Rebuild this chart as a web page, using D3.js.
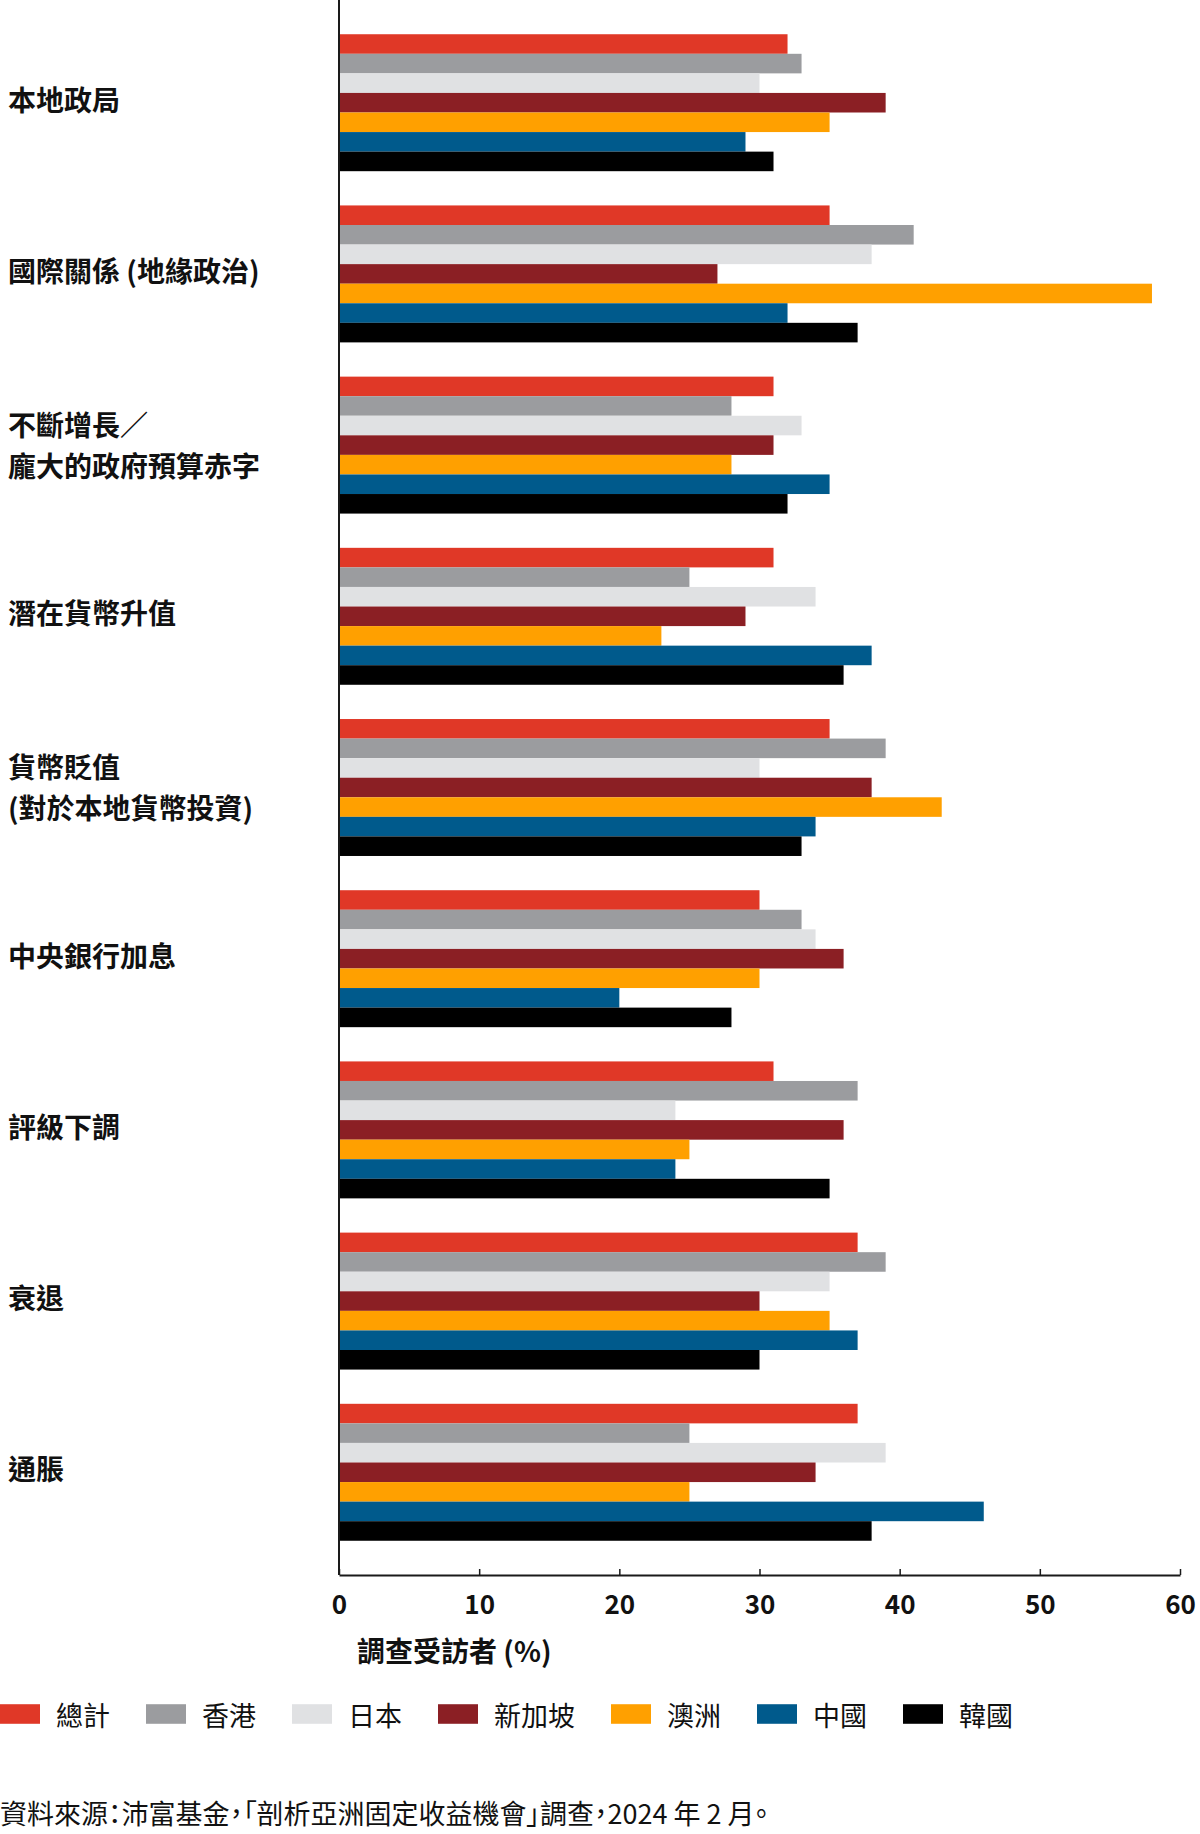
<!DOCTYPE html>
<html><head><meta charset="utf-8">
<script src="https://cdn.jsdelivr.net/npm/d3@7"></script>
<style>
html,body{margin:0;padding:0;background:#fff;}
svg{display:block;font-family:"Noto Sans CJK TC","Noto Sans",sans-serif;}
</style></head><body>
<svg id="chart" width="1200" height="1834"></svg>
<script>
// ---- data ----
const categories = ["本地政局","國際關係 (地緣政治)","不斷增長／龐大的政府預算赤字","潛在貨幣升值","貨幣貶值 (對於本地貨幣投資)","中央銀行加息","評級下調","衰退","通脹"];
const categoryLines = [["本地政局"],["國際關係 (地緣政治)"],["不斷增長／","龐大的政府預算赤字"],["潛在貨幣升值"],["貨幣貶值","(對於本地貨幣投資)"],["中央銀行加息"],["評級下調"],["衰退"],["通脹"]];
const seriesNames = ["總計","香港","日本","新加坡","澳洲","中國","韓國"];
const seriesColors = ["#E03827","#9B9C9F","#E0E1E3","#8B1F24","#FFA000","#005A8C","#000000"];
const totalValues     = [32,35,31,31,35,30,31,37,37];
const hongKongValues  = [33,41,28,25,39,33,37,39,25];
const japanValues     = [30,38,33,34,30,34,24,35,39];
const singaporeValues = [39,27,31,29,38,36,36,30,34];
const australiaValues = [35,58,28,23,43,30,25,35,25];
const chinaValues     = [29,32,35,38,34,20,24,37,46];
const koreaValues     = [31,37,32,36,33,28,35,30,38];
const seriesValues = [totalValues,hongKongValues,japanValues,singaporeValues,australiaValues,chinaValues,koreaValues];
const tickValues = [0,10,20,30,40,50,60];
const axisTitle = "調查受訪者 (%)";
const sourceText = "資料來源：沛富基金，「剖析亞洲固定收益機會」調查，2024 年 2 月。";

// ---- layout ----
const svg = d3.select("#chart");
const axisY = 1575;
const x = d3.scaleLinear().domain([0,60]).range([339,1180]);
const y = d3.scaleBand().domain(categories).range([0,axisY]).paddingInner(0.2).paddingOuter(0.2);
const yInner = d3.scaleBand().domain(seriesNames).range([0,y.bandwidth()]).padding(0);

const rows = [];
categories.forEach((c,ci)=>{
  seriesNames.forEach((s,si)=>{
    rows.push({cat:c, series:s, value:seriesValues[si][ci], color:seriesColors[si]});
  });
});

svg.append("g").selectAll("rect").data(rows).join("rect")
  .attr("x", x(0))
  .attr("y", d => y(d.cat) + yInner(d.series))
  .attr("width", d => x(d.value) - x(0))
  .attr("height", yInner.bandwidth())
  .attr("fill", d => d.color);

// vertical axis line
svg.append("line")
  .attr("x1", x(0)).attr("x2", x(0))
  .attr("y1", 0).attr("y2", axisY)
  .attr("stroke", "#1a1a1a").attr("stroke-width", 2);

// bottom axis
const xAxis = d3.axisBottom(x).tickValues(tickValues).tickFormat(d3.format("d"))
  .tickSizeInner(-6).tickSizeOuter(0).tickPadding(21);
const ax = svg.append("g").attr("transform", `translate(0,${axisY})`).call(xAxis);
ax.select(".domain").attr("stroke", "#1a1a1a").attr("stroke-width", 2);
ax.selectAll(".tick line").attr("stroke", "#1a1a1a").attr("stroke-width", 1.5);
ax.selectAll(".tick text").attr("fill", "#111").style("font-size", "26px").style("font-weight", "700")
  .style("font-family", "\"Noto Sans CJK TC\",sans-serif");

svg.append("text").attr("x", 357).attr("y", 1650)
  .attr("dominant-baseline", "central")
  .style("font-size", "28px").style("font-weight", "700").attr("fill", "#111")
  .text(axisTitle);

// category labels
const lab = svg.append("g");
categories.forEach((c,ci)=>{
  const lines = categoryLines[ci];
  const cy = y(c) + y.bandwidth()/2 + (lines.length > 1 ? -1 : -4);
  const lh = 41;
  lines.forEach((ln,li)=>{
    lab.append("text")
      .attr("x", 8)
      .attr("y", cy + (li - (lines.length-1)/2)*lh)
      .attr("dominant-baseline", "central")
      .style("font-size", "28px").style("font-weight", "700").attr("fill", "#111")
      .text(ln);
  });
});

// legend
const leg = svg.append("g");
let lx = 0;
const legY = 1714;
seriesNames.forEach((s,si)=>{
  leg.append("rect").attr("x", lx).attr("y", legY - yInner.bandwidth()/2)
    .attr("width", 40).attr("height", yInner.bandwidth()).attr("fill", seriesColors[si]);
  const t = leg.append("text").attr("x", lx + 56).attr("y", legY)
    .attr("dominant-baseline", "central")
    .style("font-size", "27px").style("font-weight", "400").attr("fill", "#111")
    .text(s);
  lx += 56 + t.node().getComputedTextLength() + 36;
});

// source
svg.append("text").attr("x", 0).attr("y", 1812)
  .attr("dominant-baseline", "central")
  .style("font-size", "27px").style("font-weight", "400").attr("fill", "#111")
  .style("font-feature-settings", "\"palt\"")
  .text(sourceText);
</script>
</body></html>
